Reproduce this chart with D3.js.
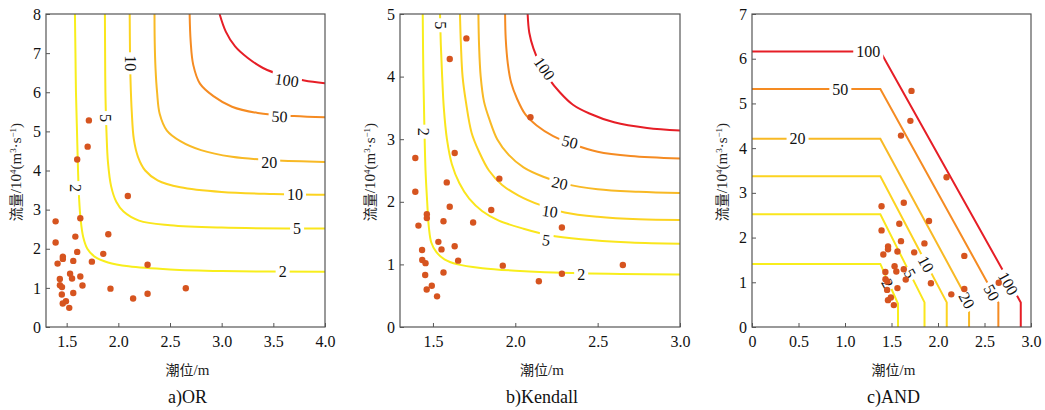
<!DOCTYPE html>
<html><head><meta charset="utf-8">
<script src="https://cdn.jsdelivr.net/npm/d3@7"></script>
<style>
body{margin:0;background:#fff;}
</style></head>
<body><svg id="chart" width="1045" height="410"></svg>
<script>
// ---- observed data (tide level m, flow 10^4 m3/s) ----
const tideLevels = [1.715,1.703,1.602,2.092,1.393,1.632,1.393,1.584,1.903,1.602,1.854,1.412,1.463,1.463,1.564,1.744,2.283,1.533,1.552,1.632,1.434,1.435,1.455,1.653,1.924,2.653,1.564,1.453,2.283,2.143,1.493,1.462,1.525];
const flows      = [5.28,4.61,4.28,3.35,2.70,2.78,2.16,2.31,2.37,1.92,1.87,1.62,1.80,1.74,1.69,1.67,1.59,1.36,1.24,1.29,1.23,1.07,1.02,1.06,0.98,0.99,0.87,0.83,0.85,0.73,0.66,0.60,0.49];

const levels = [2,5,10,20,50,100];
const levelColors = ["#f8ee1c","#fae61c","#fcd320","#f8b925","#f58b22","#e61e26"];

// ---- OR contours ----
const or2   = [[1.58,8],[1.585,7],[1.59,6],[1.60,5],[1.61,4],[1.62,3.3],[1.635,2.75],[1.66,2.3],[1.70,2.0],[1.77,1.8],[1.9,1.65],[2.1,1.55],[2.5,1.47],[3.0,1.43],[4.0,1.41]];
const or5   = [[1.87,8],[1.872,7],[1.875,6],[1.885,5],[1.90,4.2],[1.93,3.6],[1.98,3.2],[2.05,2.95],[2.2,2.72],[2.5,2.6],[3.0,2.54],[4.0,2.52]];
const or10  = [[2.11,8],[2.113,7],[2.118,6.3],[2.13,5.5],[2.15,4.8],[2.19,4.35],[2.26,4.0],[2.38,3.75],[2.6,3.57],[3.0,3.45],[3.5,3.4],[4.0,3.38]];
const or20  = [[2.35,8],[2.352,7.3],[2.36,6.6],[2.375,6.0],[2.40,5.45],[2.47,5.02],[2.6,4.75],[2.8,4.52],[3.1,4.35],[3.5,4.26],[4.0,4.22]];
const or50  = [[2.69,8],[2.70,7.3],[2.725,6.7],[2.79,6.22],[2.92,5.9],[3.1,5.63],[3.35,5.47],[3.7,5.39],[4.0,5.36]];
const or100 = [[2.98,8],[3.04,7.55],[3.13,7.17],[3.25,6.88],[3.4,6.62],[3.6,6.42],[3.8,6.3],[4.0,6.23]];
const orLines = [or2,or5,or10,or20,or50,or100];
const orLabels = [[2,1.587,3.55,90],[5,1.88,5.34,90],[10,2.12,6.74,90],[100,3.63,6.31,8],[50,3.56,5.38,3],[20,3.46,4.22,0],[10,3.71,3.38,0],[5,3.73,2.52,0],[2,3.59,1.42,0]];

// ---- Kendall contours ----
const kd2   = [[1.438,5],[1.442,4],[1.448,3.2],[1.455,2.5],[1.465,2.0],[1.475,1.6],[1.49,1.35],[1.52,1.2],[1.57,1.08],[1.65,1.0],[1.8,0.94],[2.0,0.9],[2.4,0.86],[3.0,0.84]];
const kd5   = [[1.543,5],[1.548,4.5],[1.556,4.0],[1.566,3.5],[1.585,3.0],[1.615,2.6],[1.66,2.3],[1.72,2.05],[1.8,1.85],[1.9,1.7],[2.05,1.57],[2.2,1.47],[2.4,1.4],[2.7,1.35],[3.0,1.33]];
const kd10  = [[1.664,5],[1.67,4.5],[1.68,4.0],[1.70,3.6],[1.735,3.1],[1.78,2.8],[1.84,2.5],[1.92,2.27],[2.02,2.1],[2.15,1.95],[2.3,1.83],[2.5,1.76],[2.75,1.72],[3.0,1.71]];
const kd20  = [[1.776,5],[1.78,4.5],[1.79,4.0],[1.81,3.6],[1.845,3.3],[1.89,3.0],[1.96,2.75],[2.05,2.55],[2.17,2.4],[2.3,2.29],[2.5,2.2],[2.75,2.16],[3.0,2.14]];
const kd50  = [[1.938,5],[1.942,4.6],[1.955,4.2],[1.975,3.9],[2.01,3.65],[2.06,3.4],[2.13,3.22],[2.23,3.05],[2.35,2.92],[2.5,2.8],[2.7,2.73],[3.0,2.69]];
const kd100 = [[2.075,5],[2.085,4.7],[2.11,4.45],[2.15,4.2],[2.2,3.98],[2.27,3.75],[2.35,3.55],[2.45,3.41],[2.6,3.27],[2.8,3.18],[3.0,3.14]];
const kdLines = [kd2,kd5,kd10,kd20,kd50,kd100];
const kdLabels = [[2,1.446,3.12,90],[5,1.547,4.82,90],[100,2.177,4.13,55],[50,2.332,2.96,14],[20,2.27,2.30,13],[10,2.21,1.85,8],[5,2.187,1.39,7],[2,2.40,0.84,0]];

// ---- AND contours ----
const and2   = [[0,1.41],[1.38,1.41],[1.57,0.52],[1.57,0]];
const and5   = [[0,2.52],[1.38,2.52],[1.855,0.55],[1.855,0]];
const and10  = [[0,3.37],[1.38,3.37],[2.094,0.55],[2.094,0]];
const and20  = [[0,4.21],[1.38,4.21],[2.334,0.55],[2.334,0]];
const and50  = [[0,5.32],[1.38,5.32],[2.649,0.55],[2.649,0]];
const and100 = [[0,6.16],[1.38,6.16],[2.89,0.55],[2.89,0]];
const andLines = [and2,and5,and10,and20,and50,and100];
const andLabels = [[100,1.25,6.16,0],[50,0.95,5.32,0],[20,0.49,4.21,0],[100,2.756,0.975,61],[50,2.578,0.77,61],[20,2.31,0.6,61],[10,1.872,1.41,61],[5,1.70,1.2,61],[2,1.457,0.98,61]];

// ---- tick values ----
const orXTicks = [1.5,2.0,2.5,3.0,3.5,4.0];
const kdXTicks = [1.5,2.0,2.5,3.0];
const andXTicks = [0,0.5,1.0,1.5,2.0,2.5,3.0];
const orYTicks = [0,1,2,3,4,5,6,7,8];
const kdYTicks = [0,1,2,3,4,5];
const andYTicks = [0,1,2,3,4,5,6,7];

const FONT = '"Liberation Serif"';
const CJK = '"Noto Sans CJK SC"';
const svg = d3.select("#chart");
const plotTop = 14, plotBottom = 327;

const panels = [
  {id:"a", left:46, right:325, xd:[1.3,4.0], ymax:8, xt:orXTicks, yt:orYTicks, lines:orLines, labels:orLabels, title:"a)OR", curve:d3.curveCatmullRom.alpha(0.5)},
  {id:"b", left:400, right:680, xd:[1.3,3.0], ymax:5, xt:kdXTicks, yt:kdYTicks, lines:kdLines, labels:kdLabels, title:"b)Kendall", curve:d3.curveCatmullRom.alpha(0.5)},
  {id:"c", left:752, right:1031, xd:[0,3.0], ymax:7, xt:andXTicks, yt:andYTicks, lines:andLines, labels:andLabels, title:"c)AND", curve:d3.curveLinear}
];

panels.forEach(p => {
  const x = d3.scaleLinear().domain(p.xd).range([p.left, p.right]);
  const y = d3.scaleLinear().domain([0, p.ymax]).range([plotBottom, plotTop]);
  const g = svg.append("g");
  const clipId = "clip-" + p.id;
  svg.append("clipPath").attr("id", clipId).append("rect")
    .attr("x", p.left).attr("y", plotTop).attr("width", p.right - p.left).attr("height", plotBottom - plotTop);
  const plot = g.append("g").attr("clip-path", `url(#${clipId})`);

  const line = d3.line().x(d => x(d[0])).y(d => y(d[1])).curve(p.curve);
  p.lines.forEach((ln, i) => {
    plot.append("path").attr("d", line(ln)).attr("fill", "none")
      .attr("stroke", levelColors[i]).attr("stroke-width", 2);
  });

  // labels with white gap
  p.labels.forEach(l => {
    const lg = plot.append("g").attr("transform", `translate(${x(l[1])},${y(l[2])}) rotate(${l[3]})`);
    const bg = lg.append("rect").attr("fill", "#fff");
    const t = lg.append("text").text(l[0]).attr("text-anchor", "middle").attr("dy", "0.35em")
      .attr("font-size", 16).attr("fill", "#111").style("font-family", FONT);
    const bb = t.node().getBBox();
    bg.attr("x", bb.x - 3).attr("y", bb.y - 1).attr("width", bb.width + 6).attr("height", bb.height + 2);
  });

  // points
  plot.selectAll("circle").data(tideLevels.map((v, i) => [v, flows[i]])).join("circle")
    .attr("cx", d => x(d[0])).attr("cy", d => y(d[1])).attr("r", 3.2).attr("fill", "#d6541f");

  // axes
  const fmtX = d => d === 0 ? "0" : d3.format(".1f")(d);
  const xa = g.append("g").attr("transform", `translate(0,${plotBottom})`)
    .call(d3.axisBottom(x).tickValues(p.xt).tickFormat(fmtX).tickSizeInner(-4).tickSizeOuter(0).tickPadding(9));
  const ya = g.append("g").attr("transform", `translate(${p.left},0)`)
    .call(d3.axisLeft(y).tickValues(p.yt).tickFormat(d3.format("d")).tickSizeInner(-4).tickSizeOuter(0).tickPadding(5));
  [xa, ya].forEach(a => {
    a.attr("font-family", null);
    a.select(".domain").remove();
    a.selectAll("line").attr("stroke", "#555");
    a.selectAll("text").attr("font-size", 16).attr("fill", "#111").style("font-family", FONT);
  });

  g.append("rect").attr("x", p.left).attr("y", plotTop).attr("width", p.right - p.left).attr("height", plotBottom - plotTop)
    .attr("fill", "none").attr("stroke", "#555").attr("stroke-width", 1.2);

  // y label
  const cx = p.left - 25, cy = 172;
  const yl = g.append("text").attr("transform", `translate(${cx},${cy}) rotate(-90)`)
    .attr("text-anchor", "middle").attr("font-size", 15).attr("fill", "#222").style("font-family", FONT);
  yl.append("tspan").text("流量").style("font-family", CJK).attr("font-size", 14);
  yl.append("tspan").text("/10");
  yl.append("tspan").text("4").attr("font-size", 9).attr("dy", -5);
  yl.append("tspan").text("(m").attr("dy", 5);
  yl.append("tspan").text("3").attr("font-size", 9).attr("dy", -5);
  yl.append("tspan").text("·s").attr("dy", 5);
  yl.append("tspan").text("−1").attr("font-size", 9).attr("dy", -5);
  yl.append("tspan").text(")").attr("dy", 5);

  const mid = (p.left + p.right) / 2;
  const xl = g.append("text").attr("x", mid + 2).attr("y", 375).attr("text-anchor", "middle")
    .attr("font-size", 15).attr("fill", "#222").style("font-family", FONT);
  xl.append("tspan").text("潮位").style("font-family", CJK).attr("font-size", 14);
  xl.append("tspan").text("/m");
  g.append("text").attr("x", mid + 2).attr("y", 403).attr("text-anchor", "middle")
    .attr("font-size", 18).attr("fill", "#111").style("font-family", FONT).text(p.title);
});
</script>
</body></html>
